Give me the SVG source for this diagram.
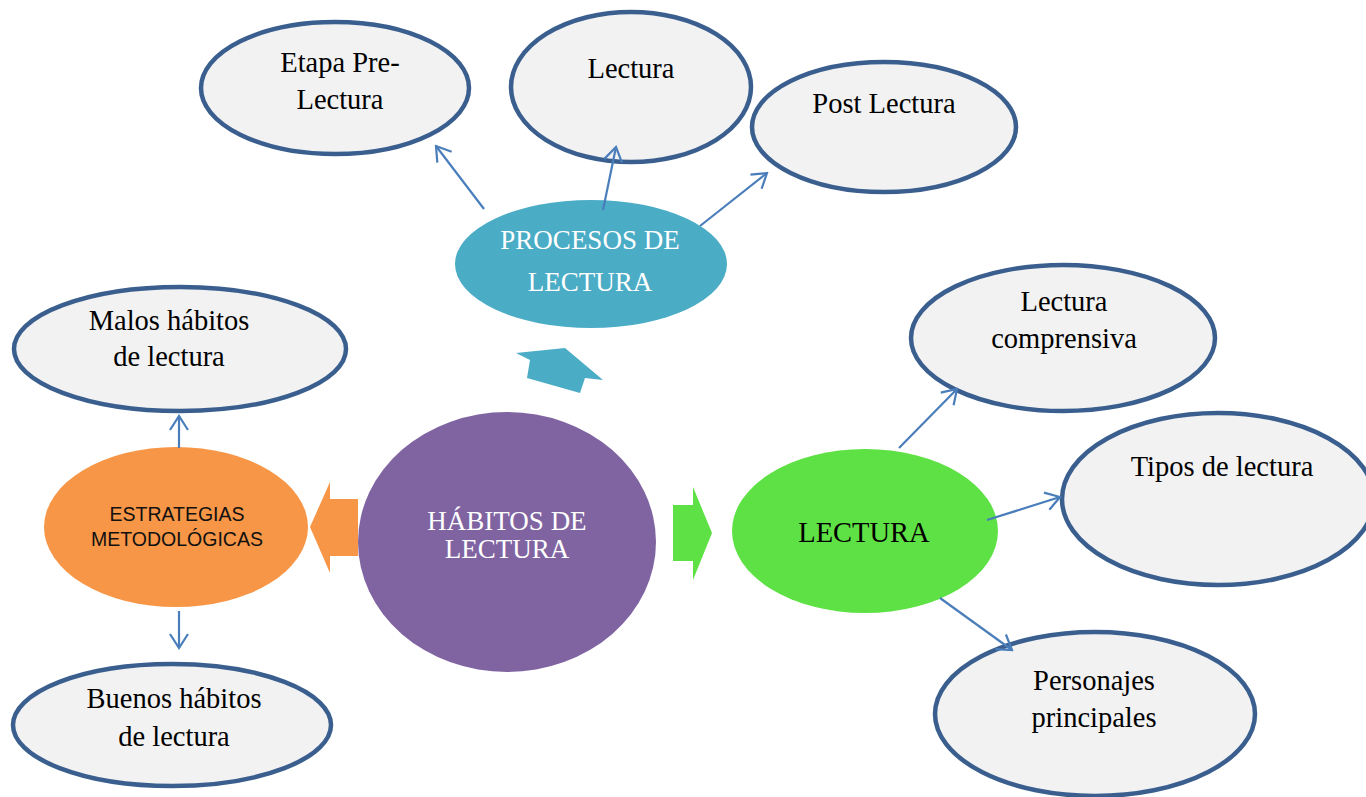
<svg xmlns="http://www.w3.org/2000/svg" width="1366" height="797" viewBox="0 0 1366 797">
<style>
.g{fill:#f2f2f2;stroke:#3a5f8f;stroke-width:4.5}
.t{font-family:"Liberation Serif","Times New Roman",serif;font-size:28.5px;fill:#000;text-anchor:middle}
.w{font-family:"Liberation Serif","Times New Roman",serif;font-size:27px;fill:#fff;text-anchor:middle}
.s{font-family:"Liberation Sans",Arial,sans-serif;font-size:19.5px;fill:#111;text-anchor:middle}
.c{stroke:#4a7ebb;stroke-width:2.2;fill:none;marker-end:url(#ah)}
</style>
<defs>
<marker id="ah" viewBox="0 0 20 20" refX="18" refY="10" markerWidth="20" markerHeight="20" markerUnits="userSpaceOnUse" orient="auto">
<path d="M4,1 L18,10 L4,19" fill="none" stroke="#4a7ebb" stroke-width="2.2"/>
</marker>
</defs>
<rect width="1366" height="797" fill="#fff"/>
<g id="arrows-block">
<polygon points="516,353 565,348 603,380 585,378 580,393 527,378 530,360" fill="#4bacc6"/>
<polygon points="358,499 330,499 330,482 310,527 330,573 330,556 358,556" fill="#f79646"/>
<polygon points="673,505 693,505 693,487 712,533 693,580 693,561 673,561" fill="#5ee144"/>
</g>
<g id="n-pre"><ellipse class="g" cx="335" cy="88" rx="134" ry="66"/><text class="t" x="340" y="72">Etapa Pre-</text><text class="t" x="340" y="109">Lectura</text></g>
<g id="n-lectura-top"><ellipse class="g" cx="631" cy="87" rx="120" ry="75"/><text class="t" x="631" y="78">Lectura</text></g>
<g id="n-post"><ellipse class="g" cx="884" cy="127" rx="132" ry="65"/><text class="t" x="884" y="113">Post Lectura</text></g>
<g id="n-malos"><ellipse class="g" cx="180" cy="349" rx="166" ry="62"/><text class="t" x="169" y="330">Malos hábitos</text><text class="t" x="169" y="366">de lectura</text></g>
<g id="n-buenos"><ellipse class="g" cx="172" cy="725" rx="159" ry="61"/><text class="t" x="174" y="708">Buenos hábitos</text><text class="t" x="174" y="746">de lectura</text></g>
<g id="n-comprensiva"><ellipse class="g" cx="1063" cy="338" rx="152" ry="73"/><text class="t" x="1064" y="311">Lectura</text><text class="t" x="1064" y="348">comprensiva</text></g>
<g id="n-tipos"><ellipse class="g" cx="1218" cy="499" rx="156" ry="86"/><text class="t" x="1222" y="476">Tipos de lectura</text></g>
<g id="n-personajes"><ellipse class="g" cx="1095" cy="714" rx="160" ry="82"/><text class="t" x="1094" y="690">Personajes</text><text class="t" x="1094" y="727">principales</text></g>
<g id="n-procesos"><ellipse cx="591" cy="264" rx="136" ry="64" fill="#4bacc6"/><text class="w" x="590" y="249">PROCESOS DE</text><text class="w" x="590" y="291">LECTURA</text></g>
<g id="n-habitos"><ellipse cx="507" cy="542" rx="149" ry="130" fill="#8064a2"/><text class="w" x="507" y="530" font-size="28">HÁBITOS DE</text><text class="w" x="507" y="558" font-size="28">LECTURA</text></g>
<g id="n-estrategias"><ellipse cx="176" cy="527" rx="132" ry="80" fill="#f79646"/><text class="s" x="177" y="521">ESTRATEGIAS</text><text class="s" x="177" y="546">METODOLÓGICAS</text></g>
<g id="n-lectura"><ellipse cx="865" cy="531" rx="133" ry="82" fill="#5ee144"/><text class="t" x="864" y="542" font-size="30">LECTURA</text></g>
<g id="connectors">
<line class="c" x1="484" y1="209" x2="436" y2="146"/>
<line class="c" x1="603" y1="210" x2="616" y2="147"/>
<line class="c" x1="700" y1="226" x2="767" y2="173"/>
<line class="c" x1="899" y1="448" x2="957" y2="389"/>
<line class="c" x1="987" y1="520" x2="1060" y2="497"/>
<line class="c" x1="940" y1="598" x2="1012" y2="650"/>
<line class="c" x1="179" y1="448" x2="179" y2="416"/>
<line class="c" x1="179" y1="611" x2="179" y2="648"/>
</g>
</svg>
